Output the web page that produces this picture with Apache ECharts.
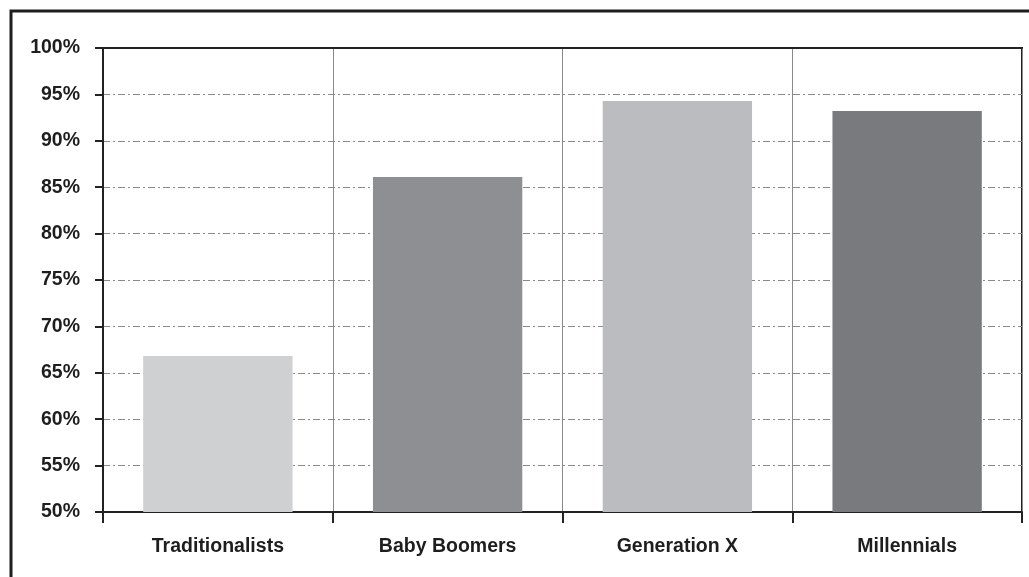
<!DOCTYPE html>
<html>
<head>
<meta charset="utf-8">
<script src="https://cdn.jsdelivr.net/npm/echarts@6/dist/echarts.min.js"></script>
<style>html,body{margin:0;padding:0;background:#fff}#c{width:1029px;height:577px}</style>
</head>
<body>
<div id="c"></div>
<script>
const categories = ['Traditionalists', 'Baby Boomers', 'Generation X', 'Millennials'];
const values = [66.8, 86.1, 94.3, 93.2];
const barColors = ['#cfd0d2', '#8e8f92', '#bbbcbf', '#797a7d'];
const yMin = 50, yMax = 100, yStep = 5;

const chart = echarts.init(document.getElementById('c'), null, {renderer: 'canvas'});
chart.setOption({
  animation: false,
  backgroundColor: '#fff',
  graphic: [{
    type: 'rect',
    shape: {x: 11, y: 11, width: 1100, height: 700},
    style: {fill: 'none', stroke: '#1e1e1e', lineWidth: 3},
    silent: true
  }],
  grid: {left: 103, right: 7, top: 48, bottom: 65, show: true, borderColor: '#222', borderWidth: 2, backgroundColor: 'transparent'},
  xAxis: [{
    type: 'category',
    data: categories,
    axisLine: {lineStyle: {color: '#222', width: 2}},
    axisTick: {show: true, length: 11, lineStyle: {color: '#222', width: 2}},
    splitLine: {show: true, lineStyle: {color: '#8a8a8a', width: 1, type: 'solid'}},
    axisLabel: {margin: 25, fontFamily: 'Liberation Sans, Arial, sans-serif', fontWeight: 'bold', fontSize: 19.5, color: '#1e1e1e'}
  }, {
    type: 'category',
    data: categories,
    position: 'top',
    z: 5,
    axisLine: {show: true, lineStyle: {color: '#222', width: 2}},
    axisTick: {show: false},
    axisLabel: {show: false},
    splitLine: {show: false}
  }],
  yAxis: {
    type: 'value',
    min: yMin, max: yMax, interval: yStep,
    axisLine: {show: true, lineStyle: {color: '#222', width: 2}},
    axisTick: {show: true, length: 8, lineStyle: {color: '#222', width: 2}},
    splitLine: {show: true, lineStyle: {color: '#8a8a8a', width: 1, type: [7, 3, 2, 3]}},
    axisLabel: {margin: 23, formatter: '{value}%', fontFamily: 'Liberation Sans, Arial, sans-serif', fontWeight: 'bold', fontSize: 19.5, color: '#1e1e1e'}
  },
  series: [{
    type: 'bar',
    barWidth: '65%',
    data: values.map((v, i) => ({value: v, itemStyle: {color: barColors[i]}})),
    z: 3
  }]
});
</script>
</body>
</html>
